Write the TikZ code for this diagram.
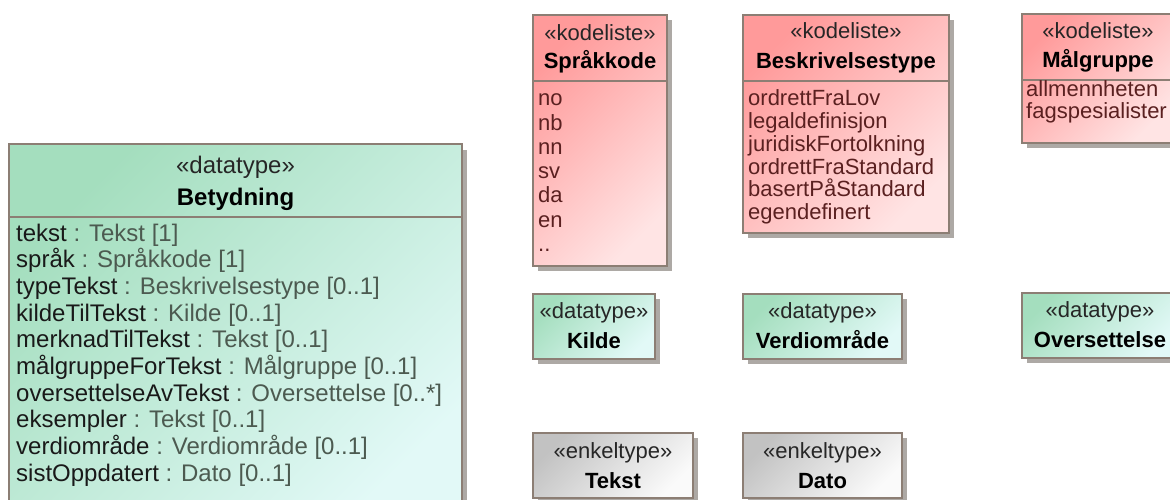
\documentclass[tikz,border=0pt]{standalone}
\usepackage{fontspec}
\setmainfont{Liberation Sans}
\usepackage{xcolor}
\definecolor{gronnA}{HTML}{A4DEBE}
\definecolor{gronnB}{HTML}{E2F9F7}
\definecolor{rodA}{HTML}{FF9A9A}
\definecolor{rodB}{HTML}{FFE4E4}
\definecolor{graaA}{HTML}{C2C2C2}
\definecolor{graaB}{HTML}{FAFAFA}
\definecolor{rammefarge}{HTML}{8C7E74}
\definecolor{skyggefarge}{HTML}{ADA9A5}
\definecolor{typefarge}{HTML}{4C5A50}
\definecolor{verdifarge}{HTML}{5A2020}

\begin{document}
\begin{tikzpicture}[x=1pt,y=-1pt,
  ramme/.style={draw=rammefarge, line width=1.2pt},
  gronnboks/.style={ramme, top color=gronnA, bottom color=gronnB, shading angle=45},
  rodboks/.style={ramme, top color=rodA, bottom color=rodB, shading angle=45},
  graaboks/.style={ramme, top color=graaA, bottom color=graaB, shading angle=45},
  skygge/.style={fill=skyggefarge},
  stereo/.style={font=\fontsize{22}{24}\selectfont, anchor=base, inner sep=0pt, text=black!85},
  navn/.style={font=\fontsize{22}{24}\selectfont\bfseries, anchor=base, inner sep=0pt},
  stereostor/.style={stereo, font=\fontsize{24}{26}\selectfont},
  navnstor/.style={navn, font=\fontsize{24}{26}\selectfont\bfseries},
  attr/.style={font=\fontsize{24}{26}\selectfont, anchor=base west, inner sep=0pt, text=black!90},
  verdi/.style={font=\fontsize{22}{24}\selectfont, anchor=base west, inner sep=0pt, text=verdifarge}]
\clip (0,0) rectangle (1170,500);
\fill [white] (0,0) rectangle (1170,500);

% Betydning
\fill [skygge] (14,150) rectangle (467,530);
\shade [gronnboks] (9,144) rectangle (462,530);
\draw [rammefarge, line width=1.2pt] (9,217) -- (462,217);
\node [stereostor] (betydningSt) at (235.5,173) {«datatype»};
\node [navnstor] (betydning) at (235.5,205) {Betydning};
\foreach \navn/\type [count=\i] in {{tekst}/{Tekst [1]}, {språk}/{Språkkode [1]},
    {typeTekst}/{Beskrivelsestype [0..1]}, {kildeTilTekst}/{Kilde [0..1]},
    {merknadTilTekst}/{Tekst [0..1]}, {målgruppeForTekst}/{Målgruppe [0..1]},
    {oversettelseAvTekst}/{Oversettelse [0..*]}, {eksempler}/{Tekst [0..1]},
    {verdiområde}/{Verdiområde [0..1]}, {sistOppdatert}/{Dato [0..1]}}
  \node [attr] (attr\i) at (16,{241+26.7*(\i-1)}) {\navn{} \textcolor{typefarge}{: \type}};

% Spraakkode
\fill [skygge] (538,20) rectangle (672,271);
\shade [rodboks] (533,15) rectangle (667,266);
\draw [rammefarge, line width=1.2pt] (533,81) -- (667,81);
\node [stereo] (sprakkodeSt) at (600,41) {«kodeliste»};
\node [navn] (sprakkode) at (600,69) {Språkkode};
\foreach \v [count=\i] in {no,nb,nn,sv,da,en,{..}}
  \node [verdi] (sprak\i) at (538,{106+24.2*(\i-1)}) {\v};

% Beskrivelsestype
\fill [skygge] (748,20) rectangle (954,238);
\shade [rodboks] (743,15) rectangle (949,233);
\draw [rammefarge, line width=1.2pt] (743,81) -- (949,81);
\node [stereo] (beskrivelsestypeSt) at (846,39) {«kodeliste»};
\node [navn] (beskrivelsestype) at (846,69) {Beskrivelsestype};
\foreach \v [count=\i] in {ordrettFraLov,legaldefinisjon,juridiskFortolkning,
    ordrettFraStandard,basertPåStandard,egendefinert}
  \node [verdi] (beskr\i) at (748,{106+22.7*(\i-1)}) {\v};

% Maalgruppe
\fill [skygge] (1027,19) rectangle (1179,148);
\shade [rodboks] (1022,14) rectangle (1174,143);
\draw [rammefarge, line width=1.2pt] (1022,80) -- (1174,80);
\node [stereo] (malgruppeSt) at (1098,39) {«kodeliste»};
\node [navn] (malgruppe) at (1098,68) {Målgruppe};
\foreach \v [count=\i] in {allmennheten,fagspesialister}
  \node [verdi] (malgr\i) at (1026,{97+22*(\i-1)}) {\v};

% Kilde, Verdiomraade, Oversettelse
\fill [skygge] (538,299) rectangle (660,364);
\shade [gronnboks] (533,294) rectangle (655,359);
\node [stereo] (kildeSt) at (594,318) {«datatype»};
\node [navn] (kilde) at (594,348) {Kilde};

\fill [skygge] (748,299) rectangle (907,364);
\shade [gronnboks] (743,294) rectangle (902,359);
\node [stereo] (verdiomradeSt) at (822.5,318) {«datatype»};
\node [navn] (verdiomrade) at (822.5,348) {Verdiområde};

\fill [skygge] (1027,298) rectangle (1183,363);
\shade [gronnboks] (1022,293) rectangle (1178,358);
\node [stereo] (oversettelseSt) at (1100,317) {«datatype»};
\node [navn] (oversettelse) at (1100,347) {Oversettelse};

% Tekst, Dato
\fill [skygge] (538,438) rectangle (698,503);
\shade [graaboks] (533,433) rectangle (693,498);
\node [stereo] (tekstSt) at (613,458) {«enkeltype»};
\node [navn] (tekst) at (613,488) {Tekst};

\fill [skygge] (748,438) rectangle (907,503);
\shade [graaboks] (743,433) rectangle (902,498);
\node [stereo] (datoSt) at (822.5,458) {«enkeltype»};
\node [navn] (dato) at (822.5,488) {Dato};

\end{tikzpicture}
\end{document}
